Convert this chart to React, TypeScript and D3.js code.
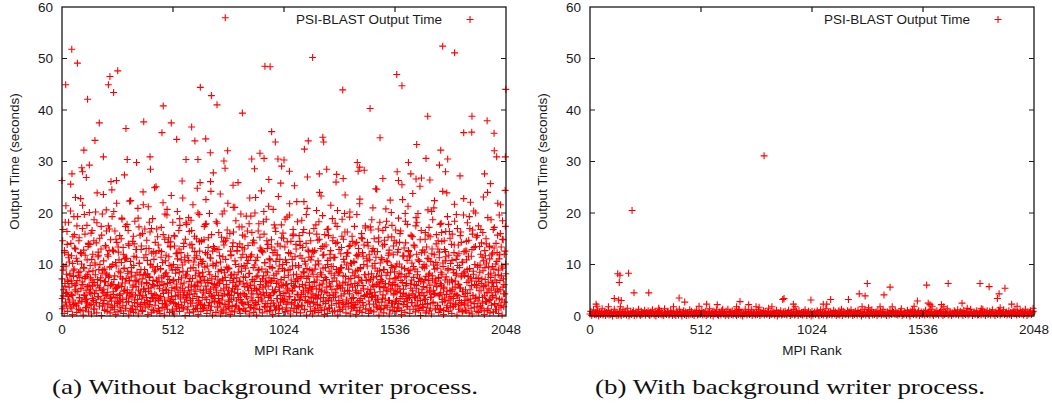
import React from 'react';
import * as d3 from 'd3';

// axis ticks
const xTicks = [0, 512, 1024, 1536, 2048];
const yTicks = [0, 10, 20, 30, 40, 50, 60];
const legendLabel = 'PSI-BLAST Output Time';
const xLabel = 'MPI Rank';
const yLabel = 'Output Time (seconds)';
const captionA = '(a) Without background writer process.';
const captionB = '(b) With background writer process.';

// (a) output time of the even ranks 0, 2, 4, ...
const timesEvenA = [
  7.2, 1.4, 16.8, 3.9, 9.6, 0.5, 12.3, 5.8, 2.7, 21.4, 8.1, 4.6, 13.9, 0.9, 6.7, 18.2, 3.1, 10.5, 7.9, 1.8, 25.6, 4.2, 11.7, 6.3, 0.3, 15.4, 8.8, 2.2, 9.1, 13.2, 5.1, 23.0,
  4.8, 11.2, 0.7, 6.9, 19.3, 2.5, 8.4, 14.6, 3.6, 7.5, 1.1, 22.8, 5.4, 10.1, 2.9, 17.0, 6.1, 0.2, 12.8, 9.3, 4.0, 15.9, 1.6, 7.7, 26.9, 3.3, 10.9, 5.7, 13.5, 0.8, 8.6, 20.1,
  2.1, 9.8, 5.2, 16.1, 0.4, 7.0, 3.4, 12.0, 6.5, 1.3, 18.7, 4.4, 10.3, 8.0, 2.6, 14.2, 0.6, 23.9, 6.0, 11.5, 3.8, 9.0, 1.9, 15.1, 5.5, 7.4, 13.0, 0.1, 4.9, 19.8, 8.9, 2.4,
  10.7, 3.0, 6.6, 1.2, 13.7, 8.3, 20.6, 4.1, 0.9, 11.9, 5.9, 17.5, 2.3, 7.8, 9.5, 0.6, 14.8, 3.7, 6.2, 24.5, 1.7, 10.0, 4.7, 12.6, 7.1, 2.0, 16.5, 5.3, 0.3, 9.7, 21.9, 3.5,
  5.6, 0.8, 12.4, 8.7, 2.8, 15.6, 4.3, 7.6, 1.0, 10.4, 19.0, 6.4, 3.2, 13.3, 0.5, 9.2, 27.4, 5.0, 1.5, 11.1, 7.3, 2.7, 17.8, 4.5, 8.2, 14.0, 0.2, 6.8, 22.3, 3.9, 10.6, 1.4,
  9.4, 4.6, 2.0, 14.5, 6.0, 0.7, 11.6, 3.1, 18.4, 7.9, 1.2, 5.7, 12.9, 8.5, 2.5, 20.9, 0.4, 6.6, 10.2, 4.0, 15.7, 1.9, 9.0, 13.6, 3.3, 7.2, 0.9, 24.1, 5.2, 11.3, 2.6, 16.9,
  1.6, 8.0, 13.1, 3.6, 6.3, 10.8, 0.3, 21.2, 4.8, 7.5, 2.2, 16.3, 9.9, 5.5, 0.6, 12.2, 3.4, 18.9, 6.9, 1.1, 11.0, 8.6, 4.2, 14.3, 2.9, 25.1, 7.0, 0.8, 9.6, 5.9, 13.8, 3.0,
  12.7, 5.3, 0.5, 9.1, 3.8, 17.2, 7.4, 1.7, 10.4, 22.0, 4.4, 6.1, 0.2, 14.9, 8.2, 2.3, 11.8, 5.0, 19.6, 1.3, 7.7, 3.5, 15.2, 9.8, 0.7, 6.5, 13.4, 2.8, 23.4, 4.9, 8.9, 1.0,
  3.2, 10.0, 6.8, 0.4, 15.5, 2.4, 8.3, 12.1, 5.6, 1.8, 20.3, 9.4, 4.1, 7.1, 13.0, 0.9, 17.6, 3.7, 6.2, 10.9, 2.1, 26.2, 5.4, 8.7, 1.5, 14.1, 4.6, 11.4, 0.1, 7.8, 18.1, 3.3,
  8.1, 1.2, 11.7, 4.9, 19.1, 6.7, 0.6, 13.8, 3.0, 9.3, 5.1, 16.6, 2.5, 7.3, 21.6, 0.8, 10.5, 4.3, 12.5, 6.0, 1.4, 8.8, 15.0, 3.8, 24.8, 5.8, 0.3, 9.9, 2.7, 14.4, 7.6, 11.0,
  0.9, 6.4, 14.7, 2.2, 8.5, 10.6, 4.5, 1.6, 17.4, 7.0, 3.6, 12.3, 22.6, 5.2, 0.5, 9.7, 6.9, 13.3, 2.0, 4.8, 19.9, 8.0, 1.1, 11.2, 3.9, 15.8, 6.3, 0.2, 10.1, 27.8, 5.5, 2.9,
  13.1, 3.4, 7.7, 0.7, 10.3, 5.9, 18.0, 1.9, 8.6, 4.0, 12.9, 2.6, 6.6, 23.7, 0.4, 9.0, 15.3, 3.1, 7.2, 11.5, 1.3, 5.3, 20.4, 8.4, 2.3, 14.6, 0.6, 6.1, 9.5, 16.7, 4.2, 1.8,
  5.0, 9.2, 2.8, 16.0, 0.3, 7.9, 11.9, 4.7, 1.0, 13.5, 6.5, 21.1, 3.5, 8.1, 0.8, 10.7, 5.7, 18.5, 2.1, 7.4, 12.6, 4.4, 25.9, 1.5, 9.6, 6.8, 14.0, 0.5, 3.2, 11.3, 8.7, 17.3,
  2.5, 12.0, 6.2, 1.4, 9.8, 4.1, 15.4, 7.5, 0.9, 19.4, 3.8, 10.2, 5.6, 13.7, 2.2, 8.3, 0.4, 22.9, 6.0, 11.6, 1.7, 4.9, 16.2, 7.1, 3.0, 9.4, 0.7, 14.2, 5.4, 20.0, 2.6, 10.8,
  7.6, 0.2, 4.3, 11.4, 8.9, 2.9, 17.9, 5.2, 1.2, 13.2, 6.7, 3.3, 24.3, 9.1, 0.6, 12.4, 4.6, 7.8, 15.9, 1.9, 10.3, 5.8, 2.4, 18.8, 6.4, 0.9, 8.5, 13.9, 3.6, 26.5, 11.1, 4.0,
  10.9, 3.9, 1.1, 14.8, 6.9, 9.3, 0.3, 20.7, 4.5, 7.3, 2.0, 12.8, 5.1, 16.4, 8.2, 1.6, 11.8, 3.4, 6.6, 23.2, 0.5, 9.7, 4.8, 13.6, 2.7, 7.0, 17.7, 5.9, 1.3, 10.0, 3.1, 15.1,
  4.4, 8.8, 13.4, 0.8, 6.1, 2.3, 10.4, 19.2, 5.3, 1.0, 7.9, 12.2, 3.7, 21.8, 9.0, 0.4, 14.5, 6.3, 2.6, 11.0, 4.9, 16.8, 8.0, 1.5, 25.3, 5.6, 3.0, 9.8, 13.0, 0.7, 7.2, 18.3,
  6.8, 1.9, 9.5, 15.6, 3.2, 11.7, 0.6, 7.4, 4.2, 18.6, 2.1, 13.3, 8.6, 5.0, 22.2, 1.2, 10.6, 6.0, 3.8, 14.1, 0.2, 9.2, 27.0, 4.6, 7.7, 12.5, 2.8, 16.1, 5.5, 0.9, 10.9, 3.5,
  11.5, 5.7, 0.4, 8.1, 2.7, 17.0, 6.5, 12.7, 1.4, 9.9, 4.0, 20.5, 7.0, 3.3, 14.7, 0.7, 10.1, 5.2, 24.0, 2.0, 8.4, 13.1, 4.7, 1.1, 6.2, 19.5, 9.3, 3.6, 11.9, 0.3, 15.8, 7.5,
  2.4, 13.8, 7.1, 4.5, 0.5, 10.8, 16.9, 3.0, 8.7, 1.6, 12.0, 5.8, 21.5, 9.6, 2.9, 6.7, 0.8, 15.2, 4.1, 11.3, 7.9, 1.0, 18.0, 3.7, 26.0, 9.0, 5.3, 14.3, 0.2, 8.3, 2.5, 12.9,
  8.5, 0.9, 5.4, 12.1, 3.9, 9.4, 18.8, 1.3, 6.4, 14.9, 2.2, 10.5, 4.8, 23.5, 7.7, 0.6, 11.6, 3.1, 16.3, 6.0, 1.8, 9.1, 13.5, 4.3, 20.2, 0.4, 7.3, 2.6, 10.2, 15.5, 5.6, 1.5,
  3.6, 10.6, 1.7, 7.8, 14.0, 5.0, 0.3, 11.8, 19.7, 2.7, 8.9, 4.4, 13.1, 6.6, 1.0, 22.7, 9.4, 3.4, 7.0, 16.0, 0.7, 12.3, 5.9, 2.1, 10.0, 28.3, 4.0, 8.0, 17.1, 1.4, 6.9, 11.2,
  9.7, 4.2, 13.6, 0.5, 6.8, 2.3, 10.9, 17.3, 5.1, 1.1, 8.2, 12.6, 3.8, 21.0, 7.4, 0.8, 15.0, 4.6, 9.3, 2.9, 11.4, 6.1, 24.6, 1.6, 8.7, 3.2, 14.4, 0.2, 5.7, 18.2, 10.3, 7.1,
  1.2, 7.9, 11.0, 3.5, 16.6, 5.5, 0.6, 9.0, 13.9, 2.0, 6.3, 20.8, 4.9, 10.7, 1.7, 8.4, 15.3, 3.0, 12.2, 0.4, 7.2, 22.5, 5.2, 9.8, 2.5, 17.6, 6.0, 1.0, 11.9, 4.1, 14.6, 8.6,
  6.1, 2.8, 9.6, 14.2, 0.9, 4.7, 12.4, 7.6, 19.0, 1.5, 10.1, 5.3, 3.4, 16.5, 8.1, 0.3, 25.5, 6.5, 11.7, 2.2, 4.4, 13.2, 9.2, 0.7, 18.4, 5.9, 7.7, 3.1, 10.8, 1.9, 21.3, 12.7,
  4.0, 11.5, 0.5, 8.8, 6.2, 15.7, 2.6, 10.3, 4.9, 23.8, 1.3, 7.5, 13.7, 3.7, 9.1, 0.8, 17.5, 5.4, 12.0, 2.1, 8.0, 19.9, 6.7, 1.1, 10.6, 3.9, 14.8, 0.1, 7.0, 26.8, 4.5, 9.5,
  12.8, 1.8, 5.7, 10.0, 3.3, 7.1, 16.2, 0.6, 9.7, 13.4, 4.6, 2.4, 20.6, 6.9, 11.1, 1.0, 8.3, 15.4, 3.6, 5.0, 0.4, 12.1, 7.8, 18.7, 2.7, 9.9, 4.2, 22.4, 6.4, 1.5, 10.4, 14.0,
  5.8, 9.3, 2.0, 13.0, 7.3, 0.7, 11.3, 4.1, 17.8, 1.2, 8.5, 6.0, 14.5, 3.2, 24.2, 9.6, 0.3, 5.6, 12.9, 2.9, 10.7, 16.4, 7.6, 1.6, 4.8, 19.3, 8.9, 0.9, 11.8, 3.5, 6.6, 15.1,
  10.2, 3.8, 7.0, 0.5, 15.9, 5.2, 9.0, 1.9, 12.3, 21.7, 4.3, 6.8, 2.5, 11.0, 8.2, 0.2, 17.0, 3.9, 13.8, 6.1, 1.3, 9.4, 27.2, 5.5, 2.1, 14.3, 7.9, 0.8, 10.5, 4.7, 19.6, 12.5,
  2.3, 8.6, 12.6, 4.4, 1.0, 10.9, 6.5, 18.1, 3.1, 7.7, 14.7, 0.6, 9.2, 5.1, 22.1, 2.7, 11.6, 6.8, 0.4, 16.7, 4.0, 8.1, 13.3, 1.7, 10.0, 3.4, 20.0, 7.3, 5.9, 0.9, 15.6, 9.8,
  7.4, 0.7, 4.9, 13.5, 9.9, 2.0, 16.8, 6.3, 1.4, 11.4, 3.6, 8.8, 23.1, 5.7, 0.3, 12.7, 7.1, 2.8, 15.0, 10.3, 4.5, 1.1, 19.1, 6.6, 9.5, 3.0, 13.6, 0.6, 25.7, 8.3, 5.0, 11.9,
  3.7, 12.2, 6.4, 0.8, 9.1, 17.2, 2.4, 7.9, 4.6, 14.1, 1.2, 10.6, 5.3, 21.9, 8.0, 0.5, 11.1, 3.3, 6.9, 16.0, 2.1, 13.4, 9.7, 0.2, 18.5, 5.6, 7.2, 1.8, 12.0, 4.3, 24.4, 10.1,
];

// (a) output time of the odd ranks 1, 3, 5, ...
const timesOddA = [
  3.4, 14.6, 8.9, 5.1, 1.8, 12.7, 6.3, 18.2, 4.4, 9.7, 2.1, 16.4, 7.0, 3.8, 11.9, 11.3, 5.6, 2.7, 8.2, 20.4, 14.1, 6.8, 1.5, 4.0, 10.2, 3.1, 7.7, 19.3, 15.8, 5.9, 2.4, 13.0,
  6.2, 2.0, 17.5, 10.6, 4.7, 7.9, 1.3, 15.2, 3.5, 8.6, 12.3, 5.3, 12.1, 2.8, 6.6, 21.5, 1.0, 9.4, 4.1, 19.7, 7.3, 11.8, 3.2, 5.0, 1.7, 17.6, 8.0, 2.5, 14.1, 13.9, 6.0, 4.6,
  13.9, 7.4, 4.3, 2.2, 11.0, 16.6, 5.8, 8.8, 3.0, 14.6, 1.4, 6.5, 9.9, 20.2, 4.9, 2.6, 18.1, 7.1, 3.7, 12.4, 11.8, 5.5, 1.9, 10.0, 6.9, 3.3, 17.4, 15.7, 8.3, 2.0, 4.5, 23.6,
  5.2, 9.1, 1.1, 3.9, 6.7, 13.4, 16.5, 8.0, 2.3, 4.6, 11.6, 7.5, 12.7, 16.9, 3.4, 5.9, 1.6, 9.6, 2.9, 19.3, 12.8, 6.1, 4.2, 20.3, 1.2, 7.8, 3.6, 10.4, 14.9, 5.4, 14.3, 2.7,
  2.4, 13.4, 6.0, 10.9, 4.0, 1.7, 8.4, 3.1, 15.0, 5.7, 18.8, 7.2, 2.0, 12.0, 4.8, 9.3, 11.2, 6.4, 17.4, 1.5, 3.5, 11.2, 5.1, 8.7, 16.6, 2.8, 13.7, 6.9, 4.3, 1.0, 22.4, 7.6,
  8.5, 3.7, 1.3, 5.6, 15.5, 9.8, 14.0, 2.6, 6.8, 4.1, 12.9, 11.4, 7.0, 1.8, 3.2, 19.0, 5.0, 17.3, 10.3, 8.1, 2.2, 4.7, 12.9, 6.2, 1.1, 16.0, 3.9, 21.6, 7.9, 5.3, 9.0, 2.5,
  4.7, 11.9, 6.5, 14.7, 3.0, 8.2, 1.9, 5.4, 13.1, 18.2, 7.6, 2.8, 10.1, 4.4, 17.0, 1.2, 6.1, 9.5, 3.6, 12.5, 5.8, 24.9, 2.1, 8.9, 12.2, 4.0, 16.9, 6.7, 15.4, 3.3, 1.5, 7.4,
  1.0, 5.9, 3.5, 9.2, 11.4, 12.5, 6.6, 2.4, 4.9, 15.8, 7.8, 1.6, 3.1, 19.8, 10.7, 5.2, 8.4, 2.0, 20.7, 6.3, 14.3, 4.5, 11.5, 7.1, 2.9, 13.6, 14.4, 9.7, 3.8, 5.5, 1.3, 18.2,
  7.0, 2.6, 15.6, 13.6, 5.3, 3.9, 9.0, 1.4, 6.2, 12.2, 11.1, 4.6, 2.2, 16.6, 8.5, 18.9, 5.0, 3.3, 12.3, 7.4, 1.7, 9.9, 22.9, 4.1, 13.5, 6.4, 2.7, 10.5, 14.9, 3.6, 8.1, 17.8,
  3.9, 8.7, 1.8, 5.6, 10.8, 16.4, 4.2, 7.3, 2.5, 18.6, 6.0, 13.9, 13.2, 3.4, 9.4, 1.2, 5.7, 15.5, 11.3, 7.9, 4.8, 2.0, 11.7, 6.6, 1.5, 20.0, 3.0, 8.3, 19.7, 12.6, 5.1, 2.3,
  6.8, 14.5, 10.2, 3.6, 1.4, 7.7, 4.9, 14.8, 2.1, 9.5, 17.8, 5.8, 17.9, 3.2, 1.1, 12.0, 6.5, 15.2, 8.6, 4.4, 2.6, 11.3, 5.2, 24.2, 1.9, 7.2, 3.7, 12.6, 9.8, 13.5, 4.0, 6.1,
  2.8, 5.5, 9.7, 18.3, 4.6, 12.9, 1.6, 7.0, 3.4, 16.2, 6.3, 11.7, 2.4, 10.5, 5.0, 8.8, 1.0, 19.8, 3.9, 6.9, 14.4, 13.8, 4.3, 2.2, 7.5, 11.0, 1.3, 5.6, 15.1, 9.1, 21.9, 3.1,
  9.3, 1.5, 4.0, 6.9, 12.6, 11.7, 3.2, 8.0, 2.0, 5.4, 14.2, 16.3, 7.3, 4.6, 21.1, 1.8, 10.0, 6.0, 2.9, 12.7, 13.5, 5.2, 8.5, 3.6, 17.3, 1.2, 6.6, 4.1, 19.8, 9.6, 2.6, 13.3,
  15.7, 4.4, 7.6, 2.3, 13.0, 5.7, 1.0, 9.3, 3.8, 11.4, 6.4, 16.5, 2.7, 10.8, 4.9, 17.9, 8.2, 1.6, 5.9, 19.4, 3.5, 11.9, 7.0, 14.2, 4.3, 14.7, 2.1, 6.7, 9.9, 1.4, 23.0, 5.3,
  5.0, 2.2, 11.4, 7.8, 16.5, 3.6, 9.0, 1.3, 15.3, 6.1, 4.2, 12.8, 12.6, 2.9, 7.2, 5.5, 18.3, 20.3, 3.9, 10.4, 1.7, 6.8, 8.6, 4.5, 14.6, 13.1, 2.4, 5.8, 21.3, 7.4, 1.1, 9.6,
  1.9, 6.6, 3.0, 13.4, 9.4, 5.1, 12.3, 2.5, 7.9, 17.7, 4.7, 17.1, 1.2, 10.6, 6.3, 3.4, 11.9, 14.0, 8.7, 2.0, 5.6, 1.5, 11.0, 4.0, 25.8, 7.1, 15.2, 3.3, 9.2, 16.1, 6.0, 2.8,
  7.5, 3.3, 18.8, 10.9, 4.5, 1.6, 6.2, 14.4, 2.7, 8.9, 12.3, 5.0, 19.6, 3.8, 1.0, 12.1, 7.0, 2.3, 4.8, 9.7, 15.6, 15.9, 5.9, 1.4, 3.2, 11.5, 6.7, 13.9, 8.1, 22.2, 4.2, 2.1,
  4.1, 9.8, 1.7, 5.7, 14.5, 13.7, 3.5, 7.7, 2.0, 11.2, 6.1, 16.2, 4.6, 16.8, 8.4, 1.3, 3.0, 10.1, 5.4, 19.7, 7.3, 20.9, 2.6, 12.8, 4.9, 11.4, 6.5, 9.0, 1.8, 14.6, 3.7, 5.2,
  8.8, 12.6, 4.3, 2.5, 12.4, 6.7, 1.1, 9.1, 3.7, 17.7, 5.3, 15.9, 7.6, 2.2, 10.7, 4.1, 18.3, 14.9, 6.0, 1.6, 3.5, 23.3, 8.0, 5.0, 13.5, 11.8, 2.8, 6.9, 13.5, 1.2, 4.7, 9.4,
  2.9, 7.1, 5.6, 16.8, 10.0, 3.3, 15.6, 1.4, 6.4, 4.0, 11.2, 12.7, 8.3, 2.1, 5.1, 18.9, 14.6, 9.6, 3.6, 7.4, 1.0, 11.4, 4.5, 14.1, 2.4, 6.8, 17.4, 20.5, 5.8, 8.6, 3.0, 1.7,
  6.0, 1.2, 9.3, 3.9, 13.3, 15.5, 5.5, 2.7, 7.8, 11.0, 4.3, 19.9, 16.3, 6.6, 1.8, 3.1, 9.9, 12.3, 5.0, 12.2, 2.4, 7.2, 4.8, 19.2, 13.7, 10.3, 6.2, 1.5, 3.4, 14.5, 8.4, 2.0,
  3.5, 10.4, 17.4, 6.3, 2.2, 8.7, 4.6, 14.3, 1.1, 5.9, 11.6, 12.0, 7.5, 3.0, 21.8, 1.7, 9.2, 4.9, 15.2, 6.9, 15.0, 2.6, 11.6, 5.3, 13.8, 8.0, 3.8, 17.5, 1.3, 7.0, 4.2, 10.7,
  14.3, 5.2, 8.1, 2.9, 11.9, 4.4, 1.0, 7.1, 16.7, 3.6, 18.7, 9.7, 6.0, 13.1, 2.3, 5.7, 12.5, 10.2, 4.0, 24.7, 1.9, 7.7, 3.2, 12.5, 6.4, 16.9, 15.2, 2.0, 8.8, 4.7, 1.4, 6.6,
  11.3, 2.7, 6.8, 13.6, 4.1, 9.0, 1.5, 14.7, 5.6, 3.3, 17.2, 7.9, 18.4, 2.1, 10.5, 4.8, 11.8, 6.2, 12.8, 3.0, 1.2, 8.5, 5.3, 20.1, 15.4, 9.4, 2.5, 6.5, 13.6, 4.4, 1.7, 7.3,
  4.9, 16.7, 7.4, 3.1, 10.1, 1.6, 5.8, 12.9, 2.4, 8.3, 14.3, 16.0, 4.5, 6.9, 1.1, 9.5, 3.8, 22.6, 11.6, 5.2, 11.7, 2.8, 7.6, 19.9, 14.2, 4.1, 6.3, 1.8, 17.8, 3.4, 8.9, 12.5,
  8.2, 3.6, 1.3, 11.8, 5.4, 15.5, 7.0, 2.6, 15.4, 4.3, 9.6, 13.8, 6.1, 13.4, 1.9, 3.5, 19.1, 5.9, 18.2, 8.6, 2.9, 10.9, 4.6, 1.4, 7.3, 25.2, 3.0, 6.7, 16.6, 12.3, 5.1, 2.2,
  1.6, 6.4, 4.0, 9.3, 12.4, 14.9, 3.2, 7.7, 1.0, 5.5, 11.2, 2.3, 15.7, 8.0, 17.2, 4.7, 6.0, 1.5, 10.6, 3.7, 20.3, 13.0, 7.2, 2.5, 5.0, 21.0, 11.9, 9.1, 4.4, 1.2, 6.8, 15.8,
  5.7, 9.9, 2.1, 14.6, 7.5, 3.9, 12.4, 1.4, 6.3, 4.5, 18.0, 16.2, 8.1, 2.7, 10.3, 5.3, 1.1, 14.6, 3.5, 7.0, 12.5, 11.5, 4.2, 23.9, 2.0, 6.6, 9.2, 17.8, 3.1, 16.4, 5.0, 1.7,
  2.5, 4.8, 13.9, 10.8, 6.6, 1.8, 3.4, 8.4, 13.8, 18.4, 5.6, 2.2, 7.9, 19.7, 4.1, 11.7, 9.8, 6.2, 1.3, 12.1, 3.0, 5.4, 15.6, 16.3, 7.6, 2.6, 10.4, 4.7, 1.0, 8.3, 22.8, 3.8,
  7.9, 1.1, 5.1, 3.0, 14.5, 12.6, 9.0, 4.4, 2.0, 11.6, 6.8, 19.3, 17.0, 3.3, 7.4, 1.5, 5.9, 12.9, 15.9, 4.0, 8.7, 20.4, 2.4, 6.1, 10.0, 13.5, 3.7, 15.3, 5.5, 1.8, 9.5, 2.9,
  17.5, 6.7, 3.6, 8.5, 1.7, 12.0, 4.9, 14.2, 7.2, 2.5, 16.2, 5.8, 10.7, 1.0, 3.9, 9.4, 11.7, 6.0, 14.0, 2.8, 4.6, 24.0, 1.4, 8.0, 5.3, 13.4, 11.1, 3.2, 7.5, 18.7, 2.1, 6.4,
  9.6, 4.0, 16.8, 5.7, 13.2, 2.3, 7.0, 1.2, 10.1, 3.5, 6.5, 12.3, 15.7, 4.8, 8.9, 2.0, 19.6, 11.9, 5.1, 21.6, 1.6, 7.8, 3.1, 14.9, 9.3, 14.8, 4.3, 6.1, 2.7, 12.6, 17.4, 8.2,
];

// (a) slow ranks above the cloud
const peakRanksA = [
  0, 17, 45, 46, 71, 91, 95, 101, 118, 126, 152, 172, 191, 214, 221, 226, 238, 251, 257, 295,
  301, 344, 377, 406, 408, 461, 467, 504, 529, 572, 598, 613, 627, 637, 638, 663, 684, 685, 689, 715,
  747, 752, 753, 764, 789, 832, 875, 888, 913, 932, 936, 960, 967, 984, 996, 1013, 1024, 1049, 1118, 1136,
  1156, 1187, 1203, 1207, 1221, 1267, 1295, 1297, 1362, 1366, 1373, 1421, 1467, 1480, 1544, 1546, 1552, 1568, 1598, 1609,
  1633, 1636, 1679, 1687, 1697, 1741, 1747, 1756, 1769, 1779, 1811, 1853, 1890, 1891, 1949, 1961, 1993, 1994, 2005, 2045, 2047,
];
const peakTimesA = [
  26.3, 44.9, 51.8, 27.6, 49.1, 28.8, 28.0, 32.2, 42.1, 29.3, 34.1, 37.5, 30.9, 44.9, 46.5, 26.1, 43.4, 26.3, 47.6, 36.4,
  30.4, 29.8, 37.7, 30.9, 28.5, 35.6, 40.8, 37.5, 34.3, 30.4, 36.7, 34.0, 30.4, 25.9, 44.4, 34.4, 31.7, 26.1, 42.8, 41.0,
  30.1, 28.7, 57.9, 32.1, 25.4, 39.4, 30.5, 28.6, 31.6, 30.6, 48.5, 48.4, 35.8, 33.8, 30.5, 29.1, 30.3, 28.1, 32.4, 34.0,
  50.2, 27.6, 34.7, 33.8, 28.5, 27.5, 43.9, 26.7, 29.8, 28.1, 28.9, 40.3, 34.6, 26.7, 46.9, 28.0, 26.3, 44.7, 29.8, 27.6,
  26.6, 33.3, 30.6, 38.8, 26.4, 29.3, 32.2, 52.4, 28.0, 30.5, 51.1, 35.6, 35.7, 38.8, 27.6, 37.9, 35.5, 32.1, 30.9, 30.9, 44.0,
];

// (b) output time with the background writer, every 4th rank 0, 4, 8, ...
const timesB = [
  0.4, 0.9, 0.1, 0.6, 1.2, 0.3, 0.7, 0.2, 0.5, 1.0, 0.0, 0.8, 0.3, 0.6, 1.4, 0.2, 0.5, 0.9, 0.1, 0.7, 0.4, 1.1, 0.2, 0.6, 0.3, 0.8, 0.0, 0.5, 1.3, 0.4, 0.7, 0.1,
  0.6, 0.2, 0.9, 0.4, 0.1, 0.7, 1.2, 0.3, 0.5, 0.8, 0.2, 1.5, 0.6, 0.0, 0.4, 0.9, 0.3, 0.7, 1.0, 0.1, 0.5, 0.8, 0.2, 0.6, 1.3, 0.4, 0.1, 0.9, 0.3, 0.7, 0.5, 1.1,
  0.2, 0.7, 0.5, 1.0, 0.3, 0.1, 0.8, 0.4, 1.2, 0.6, 0.2, 0.9, 0.0, 0.5, 0.7, 0.3, 1.1, 0.4, 0.8, 0.2, 0.6, 0.1, 1.4, 0.5, 0.3, 0.7, 0.9, 0.2, 0.4, 1.0, 0.6, 0.1,
  0.8, 0.3, 0.6, 0.1, 0.9, 0.5, 0.2, 1.3, 0.7, 0.4, 0.0, 0.6, 1.0, 0.3, 0.8, 0.1, 0.5, 0.7, 0.2, 1.2, 0.4, 0.9, 0.3, 0.6, 0.1, 0.8, 0.5, 1.1, 0.2, 0.4, 0.7, 0.3,
  0.5, 1.1, 0.2, 0.7, 0.4, 0.9, 0.1, 0.6, 0.3, 0.8, 1.4, 0.2, 0.5, 0.7, 0.0, 0.9, 0.4, 0.6, 1.2, 0.3, 0.1, 0.8, 0.5, 0.2, 1.0, 0.7, 0.4, 0.6, 0.1, 0.9, 0.3, 1.3,
  0.1, 0.6, 0.8, 0.3, 1.0, 0.2, 0.5, 0.9, 0.4, 0.1, 0.7, 0.3, 1.1, 0.6, 0.2, 0.8, 0.0, 0.5, 0.4, 1.3, 0.7, 0.2, 0.6, 0.9, 0.3, 0.5, 1.2, 0.1, 0.8, 0.4, 0.6, 0.2,
  0.7, 0.3, 1.2, 0.5, 0.1, 0.8, 0.4, 0.6, 1.0, 0.2, 0.9, 0.5, 0.3, 0.7, 1.5, 0.1, 0.6, 0.3, 0.9, 0.4, 0.8, 0.2, 0.5, 1.1, 0.0, 0.7, 0.3, 0.6, 1.0, 0.2, 0.4, 0.8,
  0.3, 0.9, 0.4, 0.2, 0.7, 1.1, 0.5, 0.1, 0.8, 0.3, 0.6, 1.3, 0.2, 0.4, 0.9, 0.6, 0.1, 1.0, 0.5, 0.3, 0.7, 0.2, 0.8, 0.4, 1.2, 0.6, 0.1, 0.5, 0.9, 0.3, 0.7, 0.0,
  0.9, 0.2, 0.5, 0.8, 0.3, 0.6, 1.0, 0.4, 0.1, 0.7, 1.2, 0.3, 0.6, 0.2, 0.8, 0.5, 1.4, 0.1, 0.4, 0.7, 0.3, 0.9, 0.6, 0.2, 0.5, 1.1, 0.4, 0.8, 0.1, 0.6, 0.3, 1.0,
  0.2, 0.6, 1.3, 0.1, 0.9, 0.4, 0.7, 0.3, 0.5, 1.0, 0.2, 0.8, 0.4, 1.2, 0.6, 0.1, 0.7, 0.3, 0.9, 0.5, 0.2, 1.1, 0.6, 0.4, 0.8, 0.0, 0.5, 0.3, 0.7, 1.3, 0.2, 0.6,
  0.6, 0.4, 0.1, 0.9, 0.5, 1.2, 0.2, 0.7, 0.3, 0.6, 0.8, 0.1, 1.0, 0.4, 0.5, 0.9, 0.2, 0.6, 1.3, 0.3, 0.7, 0.4, 0.1, 0.8, 0.6, 0.2, 1.1, 0.5, 0.3, 0.9, 0.7, 0.4,
  1.0, 0.3, 0.7, 0.2, 0.6, 0.4, 0.9, 1.4, 0.1, 0.5, 0.3, 0.8, 0.6, 0.2, 1.1, 0.7, 0.4, 0.0, 0.9, 0.5, 1.2, 0.3, 0.6, 0.8, 0.2, 0.4, 0.7, 1.0, 0.1, 0.5, 0.8, 0.3,
  0.4, 0.8, 0.2, 1.1, 0.5, 0.3, 0.6, 0.9, 0.2, 1.3, 0.7, 0.4, 0.1, 0.6, 0.8, 0.3, 1.0, 0.5, 0.2, 0.7, 0.9, 0.4, 1.2, 0.1, 0.6, 0.3, 0.8, 0.5, 1.4, 0.2, 0.7, 0.4,
  0.7, 0.1, 0.6, 0.4, 1.0, 0.8, 0.3, 0.5, 1.2, 0.2, 0.6, 0.9, 0.4, 0.7, 0.1, 1.1, 0.5, 0.3, 0.8, 0.6, 0.2, 0.9, 0.4, 1.3, 0.7, 0.1, 0.5, 0.8, 0.3, 0.6, 1.0, 0.2,
  0.3, 0.5, 0.9, 0.2, 0.7, 1.3, 0.4, 0.8, 0.1, 0.6, 1.0, 0.3, 0.5, 0.9, 0.2, 0.7, 1.2, 0.4, 0.6, 0.1, 0.8, 0.5, 0.3, 1.1, 0.9, 0.2, 0.6, 0.4, 0.7, 1.2, 0.3, 0.5,
  0.8, 0.2, 0.5, 1.0, 0.3, 0.7, 0.1, 0.6, 0.9, 0.4, 1.2, 0.5, 0.2, 0.8, 0.6, 0.3, 1.1, 0.7, 0.4, 0.9, 0.2, 0.5, 1.3, 0.6, 0.1, 0.8, 0.4, 0.7, 1.0, 0.3, 0.6, 0.9,
];

// (b) ranks that still stand out
const peakRanksB = [
  28, 32, 85, 112, 128, 132, 135, 138, 140, 144, 178, 194, 203, 271, 317, 385, 411, 437, 503, 538,
  587, 612, 676, 686, 692, 732, 766, 780, 803, 839, 889, 895, 938, 946, 1019, 1076, 1092, 1110, 1192, 1242,
  1255, 1269, 1279, 1285, 1338, 1356, 1384, 1394, 1495, 1510, 1553, 1560, 1568, 1578, 1621, 1632, 1652, 1716, 1740, 1799,
  1805, 1841, 1879, 1887, 1892, 1914, 1945, 1970, 2044,
];
const peakTimesB = [
  2.3, 1.9, 1.8, 3.4, 8.2, 3.1, 6.5, 7.9, 1.8, 3.0, 8.3, 20.5, 4.5, 4.5, 1.5, 1.8, 3.5, 2.7, 1.9, 2.3,
  2.2, 1.3, 1.8, 1.3, 2.8, 2.2, 1.8, 1.7, 31.1, 1.8, 3.2, 3.4, 2.3, 1.8, 3.1, 2.3, 2.3, 3.2, 3.2, 4.3,
  1.8, 3.9, 6.3, 1.6, 1.8, 4.1, 5.6, 1.8, 1.9, 2.9, 6.0, 2.5, 2.2, 1.9, 2.2, 1.8, 6.3, 2.5, 1.5, 6.3,
  1.4, 5.7, 3.4, 4.3, 1.6, 5.4, 2.3, 1.9, 1.5,
];

const plotW = 444;
const top = 7;
const bottom = 316;
const red = '#ff0000';
const ink = '#1a1a1a';
const sans = '"Liberation Sans", Arial, Helvetica, sans-serif';

function plusPath(pts, x, y, r) {
  return pts
    .map(([rk, t]) => {
      const px = x(rk);
      const py = y(t);
      return `M${px - r},${py}h${2 * r}M${px},${py - r}v${2 * r}`;
    })
    .join('');
}

// series: [{ times, first, step }]
function Panel({ left, series, peakRanks, peakTimes, caption, capX, capLen }) {
  const x = d3.scaleLinear().domain([0, 2048]).range([left, left + plotW]);
  const y = d3.scaleLinear().domain([0, 60]).range([bottom, top]);
  const right = left + plotW;

  let pts = [];
  series.forEach(s => {
    pts = pts.concat(s.times.map((t, i) => [s.first + i * s.step, t]));
  });
  pts = pts.concat(peakRanks.map((r, i) => [r, peakTimes[i]]));
  const tick = 5;

  return (
    <g>
      {/* points */}
      <path d={plusPath(pts, x, y, 3.5)} stroke={red} strokeWidth={1.1} fill="none" />

      {/* frame */}
      <rect x={left} y={top} width={plotW} height={bottom - top} fill="none" stroke={ink} strokeWidth={1.3} />

      {yTicks.map(v => (
        <g key={'y' + v}>
          {v > 0 && v < 60 && (
            <path
              d={`M${left},${y(v)}h${tick}M${right},${y(v)}h${-tick}`}
              stroke={ink}
              strokeWidth={1.2}
            />
          )}
          <text
            x={left - 9}
            y={y(v)}
            dy="0.36em"
            textAnchor="end"
            fontFamily={sans}
            fontSize={13.5}
            fill={ink}
          >
            {v}
          </text>
        </g>
      ))}

      {xTicks.map(v => (
        <g key={'x' + v}>
          {v > 0 && v < 2048 && (
            <path
              d={`M${x(v)},${bottom}v${-tick}M${x(v)},${top}v${tick}`}
              stroke={ink}
              strokeWidth={1.2}
            />
          )}
          <text x={x(v)} y={334} textAnchor="middle" fontFamily={sans} fontSize={13.5} fill={ink}>
            {v}
          </text>
        </g>
      ))}

      <text x={left + plotW / 2} y={355} textAnchor="middle" fontFamily={sans} fontSize={13.5} fill={ink}>
        {xLabel}
      </text>
      <text
        transform={`translate(${left - 43},${(top + bottom) / 2}) rotate(-90)`}
        textAnchor="middle"
        fontFamily={sans}
        fontSize={13.5}
        fill={ink}
      >
        {yLabel}
      </text>

      {/* legend */}
      <text x={right - 64} y={24} textAnchor="end" fontFamily={sans} fontSize={13.5} fill={ink}>
        {legendLabel}
      </text>
      <path d={`M${right - 39.5},19.5h7M${right - 36},16v7`} stroke={red} strokeWidth={1.1} />

      {/* caption */}
      <text
        x={capX}
        y={394}
        fontFamily='"Liberation Serif", "Times New Roman", serif'
        fontSize={22}
        fill="#111"
        textLength={capLen}
        lengthAdjust="spacingAndGlyphs"
      >
        {caption}
      </text>
    </g>
  );
}

export default function App() {
  return (
    <svg width={1052} height={404} style={{ position: 'absolute', left: 0, top: 0, background: '#fff' }}>
      <rect width={1052} height={404} fill="#fff" />
      <Panel
        left={62}
        series={[
          { times: timesEvenA, first: 0, step: 2 },
          { times: timesOddA, first: 1, step: 2 },
        ]}
        peakRanks={peakRanksA}
        peakTimes={peakTimesA}
        caption={captionA}
        capX={52}
        capLen={426}
      />
      <Panel
        left={590}
        series={[{ times: timesB, first: 0, step: 4 }]}
        peakRanks={peakRanksB}
        peakTimes={peakTimesB}
        caption={captionB}
        capX={595}
        capLen={390}
      />
    </svg>
  );
}
